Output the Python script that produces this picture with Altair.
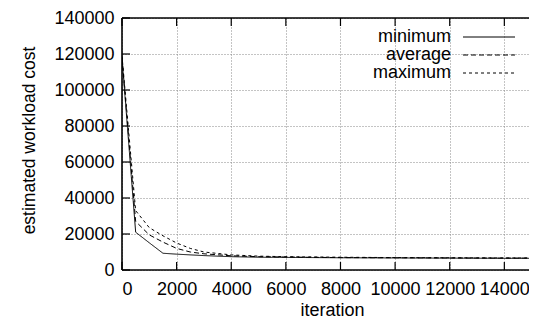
import altair as alt
import pandas as pd

iterations = [0, 500, 1000, 1500, 2000, 2500, 3000, 4000, 5000, 6000, 8000, 10000, 12000, 14000, 15000]
minimum = [118000, 21000, 15100, 9300, 8800, 8400, 8000, 7400, 7100, 7000, 6800, 6700, 6600, 6500, 6500]
average = [118000, 27000, 19500, 15500, 12000, 10000, 9000, 7900, 7400, 7200, 6900, 6800, 6700, 6600, 6600]
maximum = [119000, 33000, 23500, 19000, 15000, 12000, 10000, 8400, 7700, 7400, 7100, 6900, 6800, 6700, 6700]
series_names = ["minimum", "average", "maximum"]
x_ticks = [0, 2000, 4000, 6000, 8000, 10000, 12000, 14000]
y_ticks = [0, 20000, 40000, 60000, 80000, 100000, 120000, 140000]

W, H = 407, 252
X_VISIBLE_MAX = 14903
FONT = "Liberation Sans"
dashes = {"minimum": [1, 0], "average": [5, 3], "maximum": [3, 3]}

rows = []
for name, vals in zip(series_names, [minimum, average, maximum]):
    for it, v in zip(iterations, vals):
        rows.append({"iteration": it, "cost": v, "series": name})
df = pd.DataFrame(rows)

xscale = alt.Scale(domain=[0, X_VISIBLE_MAX], nice=False, zero=False)
yscale = alt.Scale(domain=[0, 140000], nice=False)

xaxis = alt.Axis(values=x_ticks, format="d", title="iteration", grid=True,
                 gridColor="#888888", gridDash=[1, 2], gridWidth=1,
                 ticks=False, tickSize=0, domain=False,
                 labelFont=FONT, labelFontSize=18, labelColor="black",
                 labelBaseline="alphabetic", labelPadding=24,
                 titleFont=FONT, titleFontSize=18, titleFontWeight="normal",
                 titleColor="black", titleBaseline="alphabetic",
                 titleX=210, titleY=45)
yaxis = alt.Axis(values=y_ticks, format="d", title="estimated workload cost", grid=True,
                 gridColor="#888888", gridDash=[1, 2], gridWidth=1,
                 ticks=False, tickSize=0, domain=False,
                 labelFont=FONT, labelFontSize=18, labelColor="black",
                 labelPadding=8,
                 titleFont=FONT, titleFontSize=17.5, titleFontWeight="normal",
                 titleColor="black", titleBaseline="alphabetic",
                 titleAngle=270, titleAlign="center",
                 titleX=-88, titleY=122)

lines = alt.Chart(df).mark_line(color="black", strokeWidth=1, clip=True).encode(
    x=alt.X("iteration:Q", scale=xscale, axis=xaxis),
    y=alt.Y("cost:Q", scale=yscale, axis=yaxis),
    strokeDash=alt.StrokeDash("series:N", scale=alt.Scale(domain=series_names,
                              range=[dashes[s] for s in series_names]), legend=None),
    detail="series:N",
)

xt = pd.DataFrame({"t": x_ticks})
yt = pd.DataFrame({"v": y_ticks})
tick_style = dict(color="black", strokeWidth=1.2)
bottom_ticks = alt.Chart(xt).mark_rule(**tick_style).encode(
    x=alt.X("t:Q", scale=xscale, axis=xaxis), y=alt.value(H), y2=alt.value(H - 8))
top_ticks = alt.Chart(xt).mark_rule(**tick_style).encode(
    x=alt.X("t:Q", scale=xscale, axis=xaxis), y=alt.value(0), y2=alt.value(8))
left_ticks = alt.Chart(yt).mark_rule(**tick_style).encode(
    y=alt.Y("v:Q", scale=yscale, axis=yaxis), x=alt.value(0), x2=alt.value(8))

one = pd.DataFrame({"a": [0]})
border_style = dict(color="black", strokeWidth=1.6)
border_top = alt.Chart(one).mark_rule(**border_style).encode(
    x=alt.value(0), x2=alt.value(W), y=alt.value(0))
border_bottom = alt.Chart(one).mark_rule(**border_style).encode(
    x=alt.value(0), x2=alt.value(W), y=alt.value(H))
border_left = alt.Chart(one).mark_rule(**border_style).encode(
    x=alt.value(0), y=alt.value(0), y2=alt.value(H))

legend_layers = []
legend_y = [19, 37, 55]
for name, ly in zip(series_names, legend_y):
    ldf = pd.DataFrame({"series": [name]})
    legend_layers.append(
        alt.Chart(ldf).mark_text(align="right", baseline="middle", font=FONT, fontSize=18,
                                 color="black").encode(
            text="series:N", x=alt.value(329), y=alt.value(ly)))
    legend_layers.append(
        alt.Chart(ldf).mark_rule(color="black", strokeWidth=1, strokeDash=dashes[name]).encode(
            x=alt.value(341), x2=alt.value(393), y=alt.value(ly)))

chart = alt.layer(lines, bottom_ticks, top_ticks, left_ticks,
                  border_top, border_bottom, border_left, *legend_layers).properties(
    width=W, height=H,
    padding={"left": 114, "top": 10, "right": 0, "bottom": 49},
    autosize=alt.AutoSizeParams(type="none"),
    background="white",
).configure_view(strokeOpacity=0)

chart.save("out.html", embed_options={"renderer": "svg", "actions": False})
